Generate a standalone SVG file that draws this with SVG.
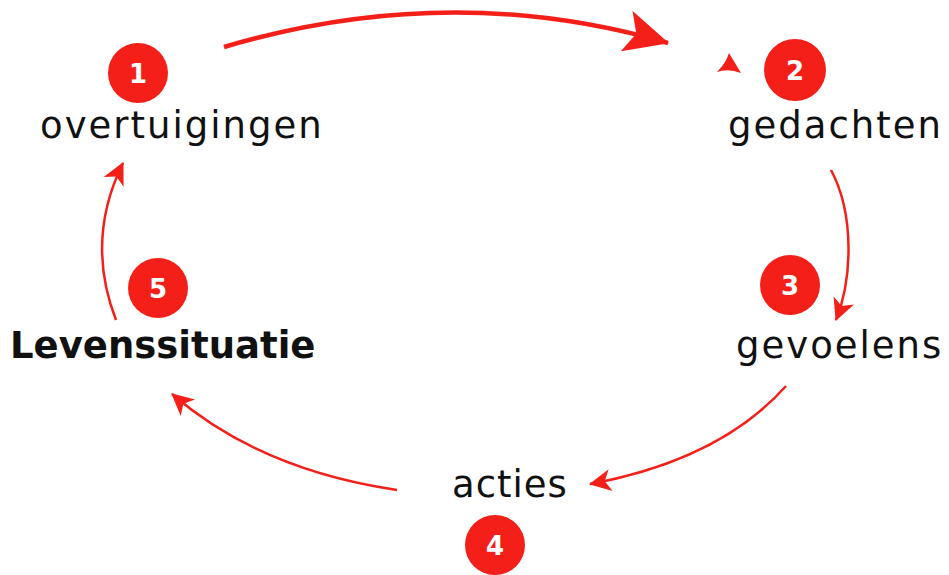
<svg xmlns="http://www.w3.org/2000/svg" width="949" height="575" viewBox="0 0 949 575">
<style>
.lbl{font-family:"DejaVu Sans","Liberation Sans",sans-serif;font-size:37px;fill:#111;letter-spacing:2px;}
.bold{font-weight:bold;letter-spacing:0px;}
.badge{fill:#f51f1a;}
.num{font-family:"DejaVu Sans","Liberation Sans",sans-serif;font-size:26px;font-weight:bold;fill:#fff;text-anchor:middle;}
.conn{fill:none;stroke:#f51f1a;stroke-width:2.5;}
.thick{stroke-width:4.5;}
</style>
<defs>
<marker id="ah" markerUnits="userSpaceOnUse" viewBox="0 0 22 22" refX="21" refY="11" markerWidth="22" markerHeight="22" orient="auto">
<path d="M0,0 L22,11 L0,22 L6,11 Z" fill="#f51f1a"/>
</marker>
<marker id="ahBig" markerUnits="userSpaceOnUse" viewBox="0 0 44 42" refX="43" refY="21" markerWidth="44" markerHeight="42" orient="auto">
<path d="M0,0 L44,21 L0,42 L10,21 Z" fill="#f51f1a"/>
</marker>
</defs>
<g id="connectors">
<path class="conn thick" d="M224,47 Q450,-20 668,43" marker-end="url(#ahBig)"/>
<path d="M729,53 L741,73 Q728,68 717,72 Q726,63 729,53 Z" fill="#f51f1a"/>
<path class="conn" d="M831,170 C855,215 852,280 836,320" marker-end="url(#ah)"/>
<path class="conn" d="M786,386 Q720,460 590,484" marker-end="url(#ah)"/>
<path class="conn" d="M397,490 Q260,470 172,394" marker-end="url(#ah)"/>
<path class="conn" d="M116,320 Q85,240 123,163" marker-end="url(#ah)"/>
</g>
<g id="node1">
<circle class="badge" cx="138" cy="73" r="30"/>
<text class="num" x="138" y="83">1</text>
<text class="lbl" x="40" y="138">overtuigingen</text>
</g>
<g id="node2">
<circle class="badge" cx="795" cy="70" r="31"/>
<text class="num" x="795" y="80">2</text>
<text class="lbl" x="728" y="138">gedachten</text>
</g>
<g id="node3">
<circle class="badge" cx="790" cy="285" r="30"/>
<text class="num" x="790" y="295">3</text>
<text class="lbl" x="736" y="358">gevoelens</text>
</g>
<g id="node4">
<circle class="badge" cx="495" cy="545" r="30"/>
<text class="num" x="495" y="555">4</text>
<text class="lbl" x="452" y="497" style="letter-spacing:1px">acties</text>
</g>
<g id="node5">
<circle class="badge" cx="158" cy="288" r="30"/>
<text class="num" x="158" y="298">5</text>
<text class="lbl bold" x="10" y="358">Levenssituatie</text>
</g>
</svg>
